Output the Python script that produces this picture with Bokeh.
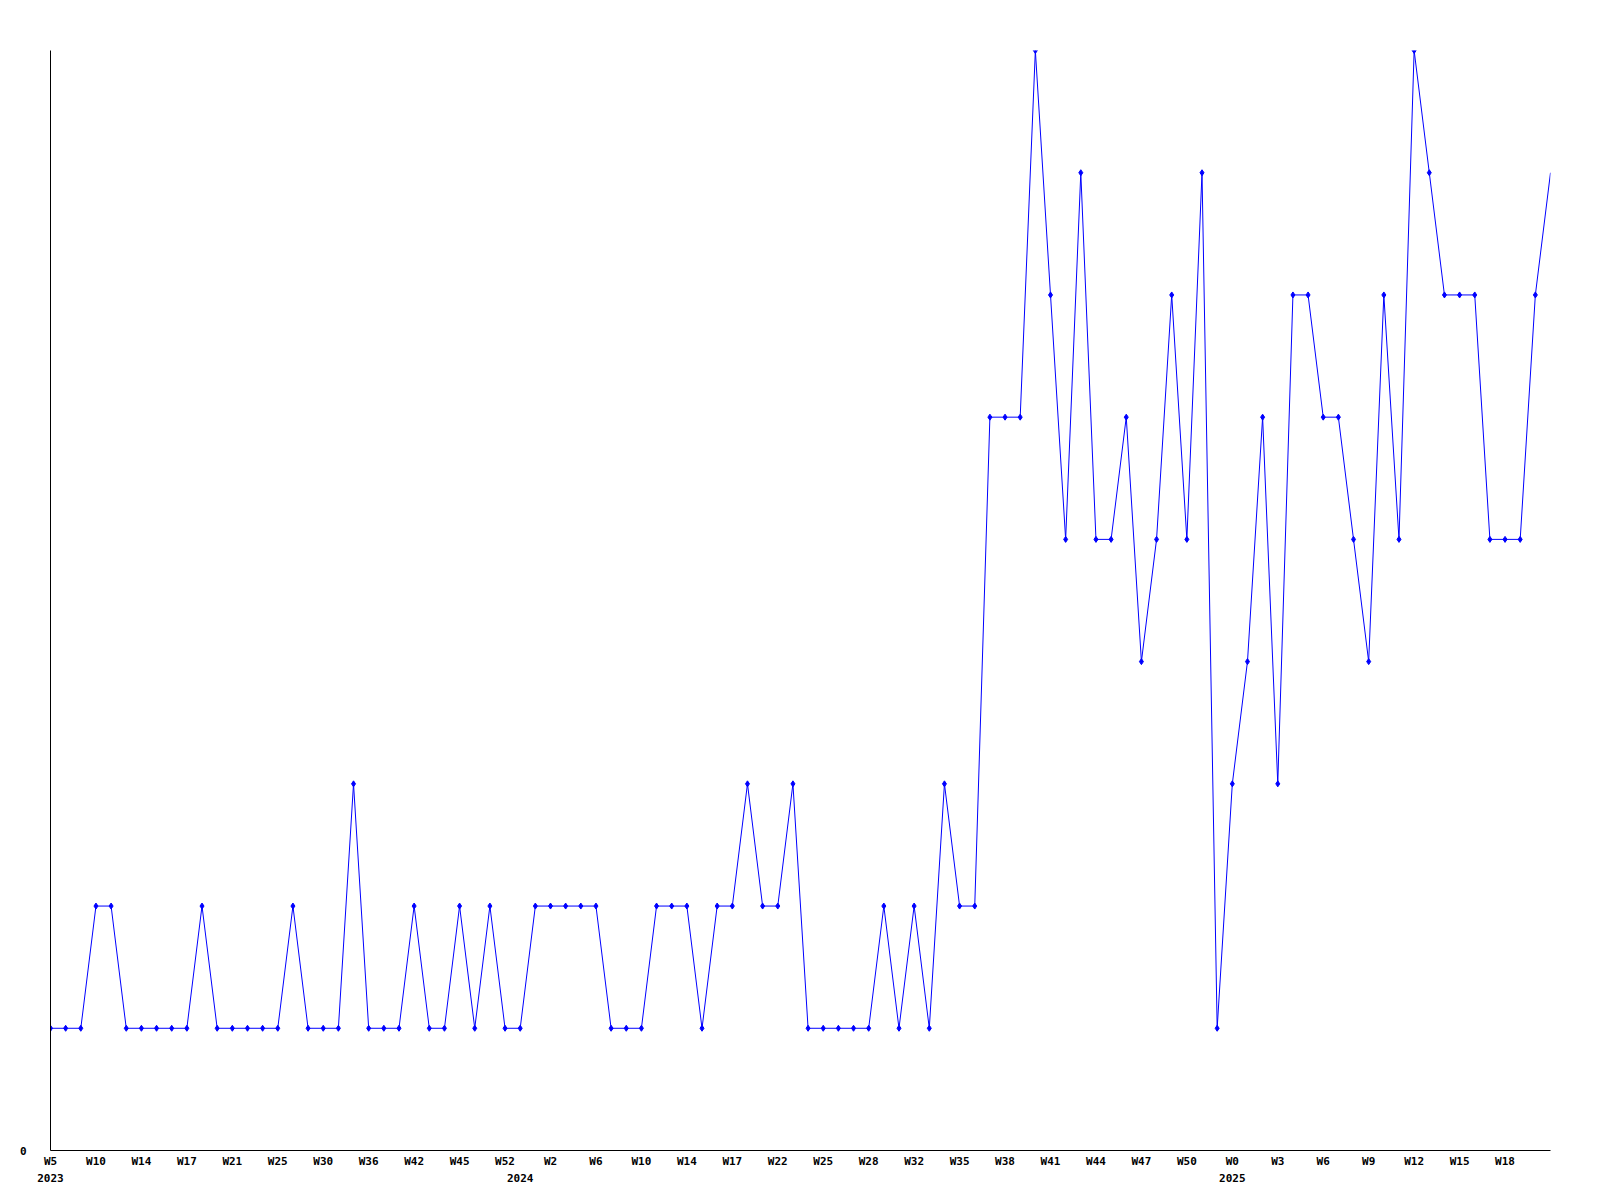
from bokeh.plotting import figure
from bokeh.models import Range1d, FixedTicker, LinearAxis, ColumnDataSource
from bokeh.embed import file_html
from bokeh.resources import INLINE

values = [1, 1, 1, 2, 2, 1, 1, 1, 1, 1, 2, 1, 1, 1, 1, 1, 2, 1, 1, 1,
          3, 1, 1, 1, 2, 1, 1, 2, 1, 2, 1, 1, 2, 2, 2, 2, 2, 1, 1, 1,
          2, 2, 2, 1, 2, 2, 3, 2, 2, 3, 1, 1, 1, 1, 1, 2, 1, 2, 1, 3,
          2, 2, 6, 6, 6, 9, 7, 5, 8, 5, 5, 6, 4, 5, 7, 5, 8, 1, 3, 4,
          6, 3, 7, 7, 6, 6, 5, 4, 7, 5, 9, 8, 7, 7, 7, 5, 5, 5, 7, 8]
week_tick_index = list(range(0, 97, 3))
week_tick_labels = ["W5", "W10", "W14", "W17", "W21", "W25", "W30", "W36", "W42", "W45", "W52",
                    "W2", "W6", "W10", "W14", "W17", "W22", "W25", "W28", "W32", "W35", "W38",
                    "W41", "W44", "W47", "W50",
                    "W0", "W3", "W6", "W9", "W12", "W15", "W18"]
year_tick_index = [0, 31, 78]
year_tick_labels = ["2023", "2024", "2025"]

x = list(range(len(values)))
src_line = ColumnDataSource(dict(x=x, y=values))
src_pts = ColumnDataSource(dict(x=x[:-1], y=values[:-1]))

p = figure(frame_width=1500, frame_height=1100, output_backend="svg", toolbar_location=None,
           x_range=Range1d(0, len(values) - 1), y_range=Range1d(0, 9),
           min_border_left=50, min_border_right=34, min_border_top=50, min_border_bottom=0,
           x_axis_location=None, y_axis_location=None)
p.outline_line_color = None
p.xgrid.visible = False
p.ygrid.visible = False
p.background_fill_color = "white"

font = "DejaVu Sans Mono"

def style(ax, standoff):
    ax.major_tick_line_color = None
    ax.minor_tick_line_color = None
    ax.major_tick_out = 0
    ax.major_tick_in = 0
    ax.minor_tick_out = 0
    ax.major_label_standoff = standoff
    ax.major_label_text_font = font
    ax.major_label_text_font_style = "bold"
    ax.major_label_text_font_size = "11px"
    ax.major_label_text_color = "black"

yax = LinearAxis(ticker=FixedTicker(ticks=[0]))
style(yax, 24)
yax.axis_line_color = "black"
p.add_layout(yax, "left")

xax = LinearAxis(ticker=FixedTicker(ticks=week_tick_index))
xax.major_label_overrides = {i: l for i, l in zip(week_tick_index, week_tick_labels)}
style(xax, 4)
xax.axis_line_color = "black"
p.add_layout(xax, "below")

yrax = LinearAxis(ticker=FixedTicker(ticks=year_tick_index))
yrax.major_label_overrides = {i: l for i, l in zip(year_tick_index, year_tick_labels)}
style(yrax, 3)
yrax.axis_line_color = None
p.add_layout(yrax, "below")

p.line("x", "y", source=src_line, line_color="#0000ff", line_width=1)
p.scatter("x", "y", source=src_pts, marker="diamond", size=6,
          fill_color="#0000ff", line_color="#0000ff")

open("out.html", "w").write(file_html(p, INLINE))
